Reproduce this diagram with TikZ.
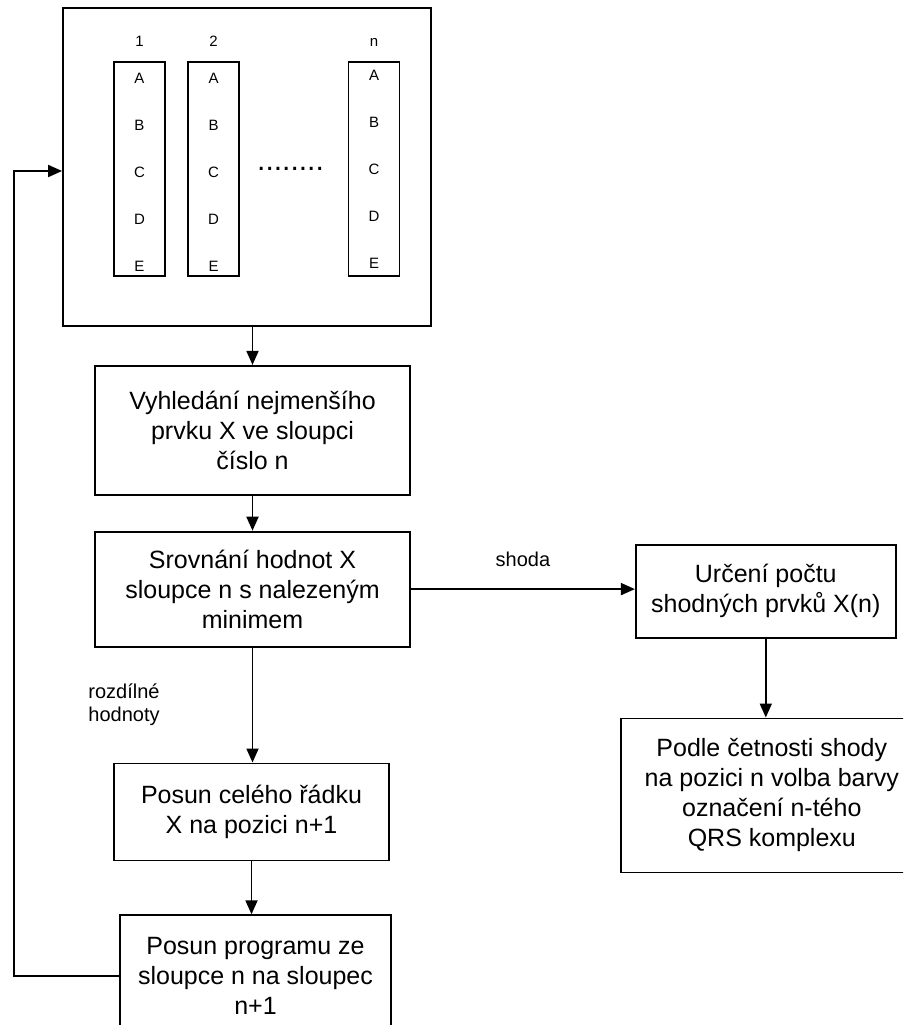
\documentclass[tikz,border=0pt]{standalone}
\usepackage{fontspec}
\setmainfont{Liberation Sans}
\usepackage{tikz}
\usetikzlibrary{arrows.meta,positioning}

\begin{document}
\begin{tikzpicture}[x=1pt, y=-1pt,
    box/.style={draw, line width=1.8pt, align=center, inner sep=0pt, font=\fontsize{25}{30}\selectfont},
    colbox/.style={draw, line width=1.8pt, minimum width=51pt, minimum height=214pt},
    chr/.style={anchor=base, inner sep=0pt, font=\fontsize{15}{18}\selectfont},
    lbl/.style={inner sep=0pt, font=\fontsize{20}{23}\selectfont},
    arr/.style={-{Triangle[length=14pt, width=12pt]}, line width=1.8pt}
  ]
    \useasboundingbox (0,0) rectangle (903,1025);
    \clip (0,0) rectangle (903,1025);
    \node[box, minimum width=368pt, minimum height=318pt] (s0) at (247,167) {};
    \node[colbox] (k1) at (139.5,169) {};
    \node[colbox] (k2) at (213.5,169) {};
    \node[colbox] (kn) at (374,169) {};
    \node[chr] (h1) at (139.5,47) {1};
    \node[chr] (h2) at (213.5,47) {2};
    \node[chr] (hn) at (374,47) {n};
    \foreach \l [count=\i] in {A,B,C,D,E} {
      \node[chr] (k1\l) at (139.5,{84+(\i-1)*46.9}) {\l};
      \node[chr] (k2\l) at (213.5,{84+(\i-1)*46.9}) {\l};
      \node[chr] (kn\l) at (374,{80.5+(\i-1)*46.9}) {\l};
    }
    \node[anchor=base west, inner sep=0pt, font=\fontsize{30}{30}\selectfont] (dots) at (257,170) {........};
    \node[box, minimum width=315pt, minimum height=129pt, below=38pt of s0, xshift=5.5pt] (s1) {Vyhledání nejmenšího\\prvku X ve sloupci\\číslo n};
    \node[box, minimum width=315pt, minimum height=115pt, below=35pt of s1] (s2) {Srovnání hodnot X\\sloupce n s nalezeným\\minimem};
    \node[box, minimum width=260pt, minimum height=93pt, right=224pt of s2, yshift=-2pt] (r1) {Určení počtu\\shodných prvků X(n)};
    \node[box, minimum width=302pt, minimum height=154pt, below=79pt of r1, xshift=6pt] (r2) {Podle četnosti shody\\na pozici n volba barvy\\označení n-tého\\QRS komplexu};
    \node[box, minimum width=275pt, minimum height=97pt, below=115pt of s2, xshift=-1pt] (s3) {Posun celého řádku\\X na pozici n+1};
    \node[box, minimum width=271pt, minimum height=122pt, below=53pt of s3, xshift=4pt] (s4) {Posun programu ze\\sloupce n na sloupec\\n+1};
    \coordinate (fb) at (14,171);
    \draw[arr] (s0.south -| s1.north) -- (s1.north);
    \draw[arr] (s1) -- (s2);
    \draw[arr] (s2.east) -- node[lbl, midway, above=22pt] {shoda} (s2.east -| r1.west);
    \draw[arr] (s2.south) -- node[lbl, midway, left=92pt, align=left] {rozdílné\\hodnoty} (s2.south |- s3.north);
    \draw[arr] (r1.south) -- (r1.south |- r2.north);
    \draw[arr] (s3.south) -- (s3.south |- s4.north);
    \draw[arr] (s4.west) -| (fb) -- (fb -| s0.west);
  \end{tikzpicture}
\end{document}
